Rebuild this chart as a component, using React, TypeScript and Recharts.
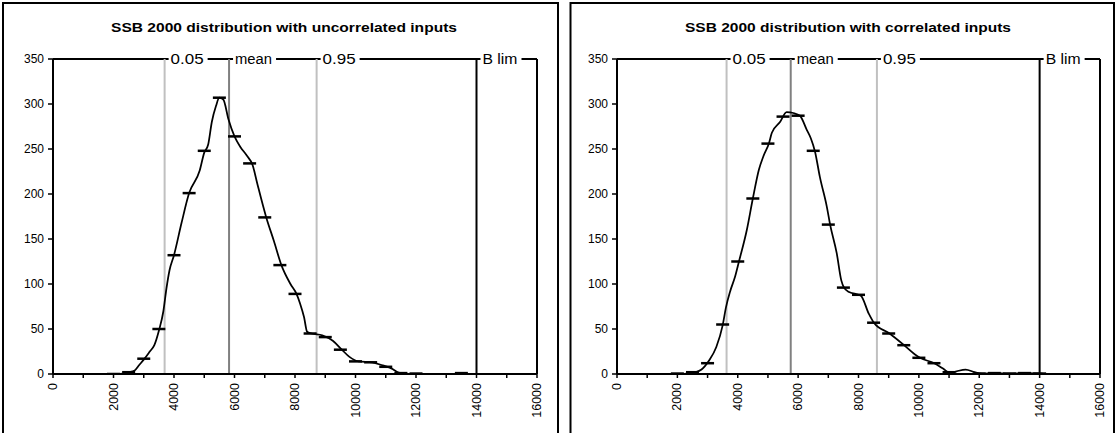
import React from 'react';
import { ComposedChart, Line, Scatter, XAxis, YAxis, ReferenceLine } from 'recharts';

// ---- tick labels ----
const xTicks = [0, 1000, 2000, 3000, 4000, 5000, 6000, 7000, 8000, 9000, 10000, 11000, 12000, 13000, 14000, 15000, 16000];
const yTicks = [0, 50, 100, 150, 200, 250, 300, 350];

// ---- titles ----
const titles = ['SSB 2000 distribution with uncorrelated inputs', 'SSB 2000 distribution with correlated inputs'];

// ---- reference lines ----
const refLabels = ['0.05', 'mean', '0.95', 'B lim'];
const uncorrRefX = [3690, 5820, 8715, 14000];
const corrRefX = [3630, 5755, 8610, 14000];

// ---- uncorrelated: smoothed curve ----
const uncorrCurveX = [2100, 2300, 2500, 2700, 2850, 3000, 3200, 3350, 3500, 3650, 3750, 3850, 4000, 4250, 4500, 4850, 5000, 5130, 5250, 5390, 5500, 5630, 5800, 6000, 6200, 6400, 6600, 6750, 7050, 7300, 7550, 7850, 8050, 8170, 8300, 8400, 8550, 8900, 9250, 9550, 9800, 10100, 10550, 10900, 11200, 11400, 11650, 12300];
const uncorrCurveY = [0, 0.5, 2, 4, 10, 16, 25, 32, 48, 70, 95, 115, 132, 168, 201, 226, 246, 255, 280, 298, 307, 305, 283, 264, 252, 243, 232, 212, 174, 148, 121, 100, 89, 78, 63, 47, 45, 43, 37, 27, 19, 14, 13, 9.5, 6, 2, 0.5, 0];
// ---- uncorrelated: bin markers ----
const uncorrBinX = [2000, 2500, 3000, 3500, 4000, 4500, 5000, 5500, 6000, 6500, 7000, 7500, 8000, 8500, 9000, 9500, 10000, 10500, 11000, 11500, 12000, 13500];
const uncorrBinY = [0, 2, 17, 50, 132, 201, 248, 307, 264, 234, 174, 121, 89, 45, 41, 27, 14, 13, 8, 1, 0.5, 1];

// ---- correlated: smoothed curve ----
const corrCurveX = [1900, 2300, 2600, 2800, 3050, 3290, 3500, 3610, 3750, 3910, 4040, 4300, 4500, 4700, 4850, 5040, 5130, 5400, 5620, 5840, 6060, 6290, 6420, 6560, 6720, 6950, 7060, 7280, 7430, 7520, 7690, 7900, 8080, 8340, 8510, 9030, 9510, 9860, 10040, 10510, 10800, 11030, 11250, 11550, 11850, 12100, 12500, 13000, 13500, 14100];
const corrCurveY = [0, 0.5, 2, 5, 15, 30, 54, 74, 92, 108, 125, 160, 195, 227, 242, 257, 268, 280, 291, 290, 287, 271, 262, 247, 219, 186, 166, 134, 104, 96, 91, 89, 87, 67, 57, 45, 32, 22, 18, 12, 6, 1, 3, 5, 2, 0.5, 1, 0.5, 1, 0.5];
// ---- correlated: bin markers ----
const corrBinX = [2000, 2500, 3000, 3500, 4000, 4500, 5000, 5500, 6000, 6500, 7000, 7500, 8000, 8500, 9000, 9500, 10000, 10500, 11000, 12000, 12500, 13000, 13500, 14000];
const corrBinY = [0.5, 2, 12, 55, 125, 195, 256, 286, 287, 248, 166, 96, 88, 57, 45, 32, 18, 12, 2, 0.5, 1, 0.5, 1, 0.5];

const zip = (xs: number[], ys: number[]) => xs.map((x, i) => ({ x, y: ys[i] }));

const FONT = 'Liberation Sans, Arial, Helvetica, sans-serif';
const refColors = ['#c0c0c0', '#808080', '#c0c0c0', '#000000'];
const refLabelWidths = [33, 37, 33, 35];

const XTick = (props: any) => {
  const { x, y, payload } = props;
  if (payload.value % 2000 !== 0) return <g />;
  return (
    <text
      x={x}
      y={y}
      transform={`rotate(-90, ${x}, ${y})`}
      textAnchor="end"
      dominantBaseline="central"
      fontSize={12.5}
      fontFamily={FONT}
      fill="#000"
    >
      {payload.value}
    </text>
  );
};

const Dash = (props: any) => {
  const { cx, cy } = props;
  if (cx == null || cy == null) return <g />;
  return <line x1={cx - 6.5} x2={cx + 6.5} y1={cy} y2={cy} stroke="#000" strokeWidth={2.5} />;
};

const TopLabel = (props: any) => {
  const vb = props.viewBox || props;
  const x = vb.x;
  const y = vb.y;
  const text: string = props.text;
  const w: number = props.tw;
  return (
    <g>
      <rect x={x + 4} y={y - 8} width={w + 6} height={16} fill="#fff" />
      <text
        x={x + 6}
        y={y}
        dominantBaseline="central"
        fontSize={14}
        fontFamily={FONT}
        fill="#000"
        textLength={w}
        lengthAdjust="spacingAndGlyphs"
      >
        {text}
      </text>
    </g>
  );
};

function Chart({ curve, bins, refX, width, marginRight }: any) {
  return (
    <ComposedChart width={width} height={433} margin={{ top: 59, right: marginRight, bottom: 0, left: 0 }}>
      <XAxis
        type="number"
        dataKey="x"
        domain={[0, 16000]}
        ticks={xTicks}
        interval={0}
        allowDataOverflow
        height={59}
        tickSize={4}
        tickMargin={5}
        axisLine={{ stroke: '#000', strokeWidth: 2 }}
        tickLine={{ stroke: '#000', strokeWidth: 1.5 }}
        tick={<XTick />}
      />
      <YAxis
        type="number"
        domain={[0, 350]}
        ticks={yTicks}
        interval={0}
        allowDataOverflow
        width={53}
        tickSize={5}
        tickMargin={4}
        axisLine={{ stroke: '#000', strokeWidth: 2 }}
        tickLine={{ stroke: '#000', strokeWidth: 1.5 }}
        tick={{ fontSize: 12, fill: '#000', fontFamily: FONT }}
      />
      <ReferenceLine y={350} stroke="#000" strokeWidth={2} />
      <ReferenceLine x={16000} stroke="#000" strokeWidth={2} />
      {refX.map((v: number, i: number) => (
        <ReferenceLine
          key={refLabels[i]}
          x={v}
          stroke={refColors[i]}
          strokeWidth={2}
          label={(p: any) => <TopLabel {...p} text={refLabels[i]} tw={refLabelWidths[i]} />}
        />
      ))}
      <Line
        data={curve}
        dataKey="y"
        type="monotone"
        stroke="#000"
        strokeWidth={1.75}
        dot={false}
        activeDot={false}
        isAnimationActive={false}
      />
      <Scatter data={bins} dataKey="y" shape={<Dash />} isAnimationActive={false} />
    </ComposedChart>
  );
}

export default function App() {
  const uncorrCurve = zip(uncorrCurveX, uncorrCurveY);
  const uncorrBins = zip(uncorrBinX, uncorrBinY);
  const corrCurve = zip(corrCurveX, corrCurveY);
  const corrBins = zip(corrBinX, corrBinY);
  return (
    <div style={{ position: 'absolute', left: 0, top: 0, width: 1117, height: 433, overflow: 'hidden', background: '#fff' }}>
      <svg width={1117} height={433} style={{ position: 'absolute', left: 0, top: 0 }}>
        <rect x={3} y={3} width={555} height={500} fill="none" stroke="#000" strokeWidth={2} />
        <rect x={570.5} y={3} width={543.5} height={500} fill="none" stroke="#000" strokeWidth={2} />
        <text x={284} y={31.5} textAnchor="middle" fontSize={13} fontWeight="bold" fontFamily={FONT} textLength={346} lengthAdjust="spacingAndGlyphs">
          {titles[0]}
        </text>
        <text x={848} y={31.5} textAnchor="middle" fontSize={13} fontWeight="bold" fontFamily={FONT} textLength={326} lengthAdjust="spacingAndGlyphs">
          {titles[1]}
        </text>
      </svg>
      <div style={{ position: 'absolute', left: 0, top: 0 }}>
        <Chart curve={uncorrCurve} bins={uncorrBins} refX={uncorrRefX} width={560} marginRight={23} />
      </div>
      <div style={{ position: 'absolute', left: 564, top: 0 }}>
        <Chart curve={corrCurve} bins={corrBins} refX={corrRefX} width={553} marginRight={17} />
      </div>
    </div>
  );
}
